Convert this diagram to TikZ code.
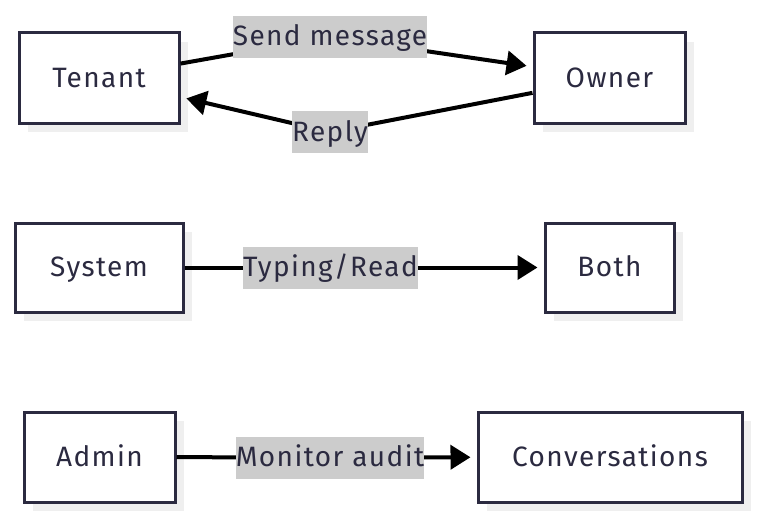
\documentclass[tikz,border=0pt]{standalone}
\usepackage{fontspec}
\setmainfont{Fira Sans}[LetterSpace=5]
\usetikzlibrary{arrows.meta,shadows}
\definecolor{boxline}{HTML}{2B2A40}
\definecolor{txt}{HTML}{2B2A40}
\definecolor{lblbg}{HTML}{CCCCCC}
\definecolor{shadowgray}{HTML}{EFEFEF}
\tikzset{
  box/.style={draw=boxline, line width=3pt, fill=white, text=txt, font=\fontsize{28}{32}\selectfont,
    inner sep=0pt, text height=24pt, text depth=6pt,
    drop shadow={shadow xshift=9pt, shadow yshift=-9pt, fill=shadowgray, opacity=1}},
  lbl/.style={fill=lblbg, text=txt, font=\fontsize{28}{32}\selectfont, inner xsep=0pt, inner ysep=0pt,
    text height=24pt, text depth=6pt, minimum height=42pt},
  conn/.style={draw=black, line width=4pt},
  arr/.style={conn, -{Triangle[length=20pt,width=24pt]}, shorten >=6pt},
}
\begin{document}
\begin{tikzpicture}[x=1pt,y=-1pt]
\useasboundingbox (0,0) rectangle (757,519);
% nodes
\node[box, minimum width=160pt, minimum height=90pt] (tenant) at (99,78) {Tenant};
\node[box, minimum width=151pt, minimum height=90pt] (owner) at (609.5,78) {Owner};
\node[box, minimum width=168pt, minimum height=89pt] (system) at (99,267.5) {System};
\node[box, minimum width=129pt, minimum height=89pt] (both) at (609.5,267.5) {Both};
\node[box, minimum width=151pt, minimum height=90pt] (admin) at (99.5,457) {Admin};
\node[box, minimum width=264pt, minimum height=90pt] (conv) at (610,457) {Conversations};
% label centres
\coordinate (cs) at (330,37);
\coordinate (cr) at (330,132);
\coordinate (ct) at (330.5,267.5);
\coordinate (cm) at (330,457.5);
% connectors
\draw[conn] (tenant) -- (cs);
\draw[arr] (cs) -- (owner);
\draw[conn] (owner) -- (cr);
\draw[arr] (cr) -- (tenant);
\draw[conn] (system) -- (ct);
\draw[arr] (ct) -- (both);
\draw[conn] (admin) -- (cm);
\draw[arr] (cm) -- (conv);
% labels
\node[lbl] (ls) at (cs) {Send message};
\node[lbl] (lr) at (cr) {Reply};
\node[lbl] (lt) at (ct) {Typing/Read};
\node[lbl] (lm) at (cm) {Monitor audit};
\end{tikzpicture}
\end{document}
